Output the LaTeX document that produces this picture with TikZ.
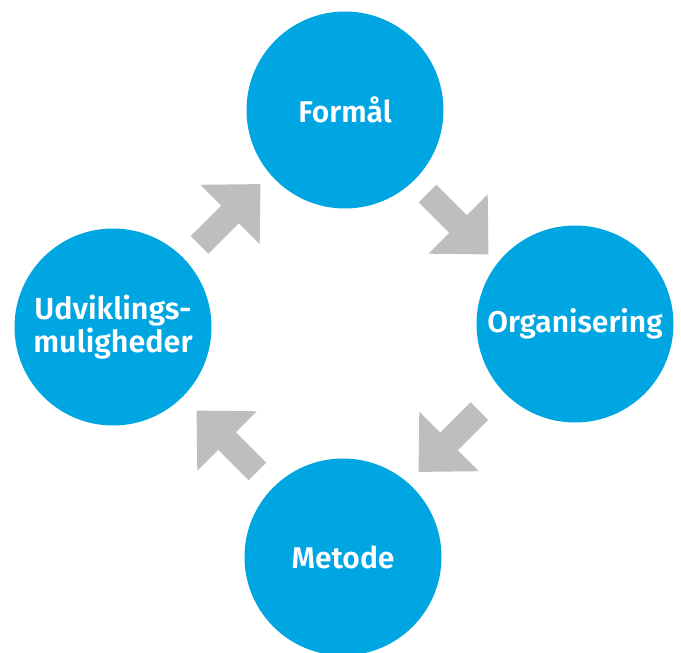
\documentclass[tikz,border=0pt]{standalone}
\usepackage{fontspec}
\newfontfamily\lab{Fira Sans}[UprightFont=* SemiBold]
\usetikzlibrary{calc}
\definecolor{circblue}{RGB}{0,166,226}
\definecolor{arrgray}{RGB}{189,190,192}
\begin{document}
\begin{tikzpicture}[x=1pt,y=-1pt,
  stage/.style={circle, fill=circblue, minimum size=197pt, inner sep=0pt,
    text=white, font=\lab\fontsize{30}{36}\selectfont, align=center},
  flowarrow/.pic={\fill[arrgray] (-43,-12.5) -- (0,-12.5) -- (0,-42) -- (43,0)
    -- (0,42) -- (0,12.5) -- (-43,12.5) -- cycle;}]
\useasboundingbox[fill=white] (0,0) rectangle (681,653);
\clip (0,0) rectangle (681,653);
\node[stage] (T) at (345,110) {Formål};
\node[stage] (R) at (575,324) {Organisering};
\node[stage] (B) at (343,557) {Metode};
\node[stage, font=\lab\fontsize{30.5}{33}\selectfont] (L) at (113,327) {Udviklings-\\muligheder};
\pic[rotate=45]   at ($(L)!0.5!(T)+(1,-4)$)  {flowarrow};
\pic[rotate=-45]  at ($(T)!0.5!(R)+(-2,7)$)  {flowarrow};
\pic[rotate=-135] at ($(R)!0.5!(B)+(-10,1)$) {flowarrow};
\pic[rotate=135]  at ($(B)!0.5!(L)+(-1,-1)$)  {flowarrow};
\end{tikzpicture}
\end{document}
